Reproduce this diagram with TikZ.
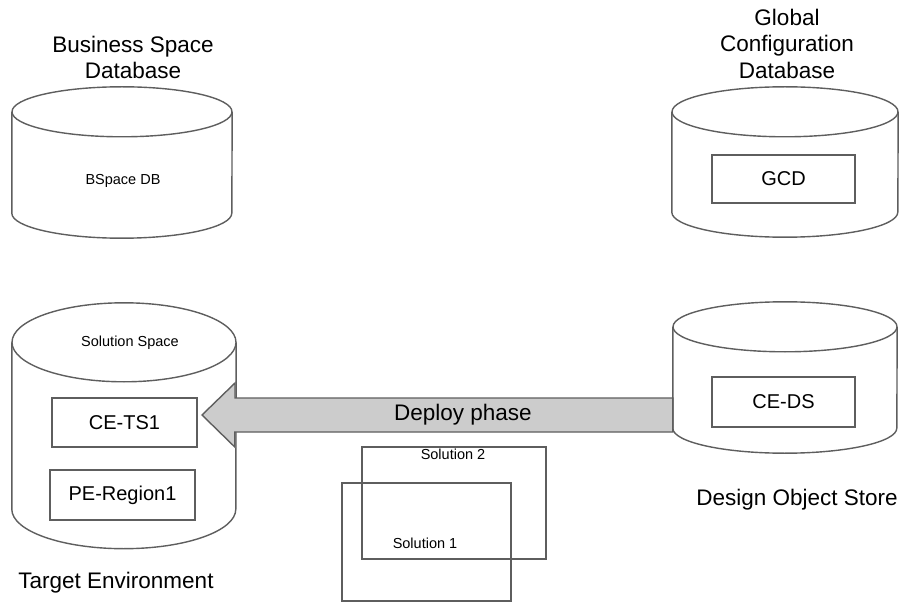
\documentclass[tikz,border=0pt]{standalone}
\usepackage{fontspec}
\setmainfont{Liberation Sans}
\usepackage{tikz}
\usetikzlibrary{positioning, calc}
\definecolor{lineg}{HTML}{5E5E5E}
\definecolor{arrowg}{HTML}{CCCCCC}
\tikzset{cylline/.style={draw=lineg, line width=1.4pt}}
\tikzset{cylbody/.style={draw=none, inner sep=0pt}}
% cylinder outline round a body node: name, x radius, y radius
\newcommand{\dbcyl}[3]{%
  \draw[cylline, fill=white] (#1.north west) -- (#1.south west)
    arc[start angle=180, end angle=360, x radius=#2, y radius=#3] -- (#1.north east);
  \draw[cylline, fill=white] (#1.north) ellipse[x radius=#2, y radius=#3];
}

\begin{document}
\begin{tikzpicture}[x=1pt, y=1pt,
    biglabel/.style={font=\fontsize{22.5}{26.5}\selectfont, inner sep=0pt, align=center},
    smalllabel/.style={font=\fontsize{14.5}{17}\selectfont, inner sep=0pt},
    innerbox/.style={draw=lineg, line width=1.4pt, minimum width=145pt, minimum height=49pt, inner sep=0pt, font=\fontsize{20}{24}\selectfont},
    solbox/.style={draw=lineg, line width=1.4pt, inner sep=0pt},
    deployarrow/.style={draw=lineg, line width=1.4pt, fill=arrowg}]
  \useasboundingbox (0,0) rectangle (904,603);

  % databases
  \node[cylbody, minimum width=220pt, minimum height=101pt] (bsdb) at (122,440.5) {};
  \dbcyl{bsdb}{110}{25}
  \node[cylbody, minimum width=226pt, minimum height=100pt] (gcdb) at (785,441) {};
  \dbcyl{gcdb}{113}{25}
  \node[cylbody, minimum width=224pt, minimum height=166.5pt] (tenv) at (124,177.25) {};
  \dbcyl{tenv}{112}{39.5}
  \node[cylbody, minimum width=224pt, minimum height=101pt] (dos) at (785,225.5) {};
  \dbcyl{dos}{112}{25}

  % titles
  \node[biglabel] (bstitle) at (133,545.5) {Business Space\\Database};
  \node[biglabel] (gctitle) at (787,559.5) {Global\\Configuration\\Database};
  \node[biglabel] (dostitle) at (797,103) {Design Object Store};
  \node[biglabel] (tetitle) at (116,20) {Target Environment};

  % contents
  \node[smalllabel] (bsname) at (123,422) {BSpace DB};
  \node[innerbox, minimum width=143pt, minimum height=48pt] (gcd) at (783.5,424) {GCD};
  \node[smalllabel] (ssname) at (130,260.5) {Solution Space};
  \node[innerbox] (cets) at (124.5,180.5) {CE-TS1};
  \node[innerbox, minimum height=50pt] (peregion) at (122.5,108) {PE-Region1};
  \node[innerbox, minimum width=143pt, minimum height=50pt] (ceds) at (783.5,201) {CE-DS};

  % deploy arrow
  \coordinate (tip) at (202,188);
  \coordinate (tail) at (dos.west |- tip);
  \draw[deployarrow] (tip) -- ++(33,32) -- ++(0,-15) -- ([yshift=17pt]tail)
    -- ([yshift=-17pt]tail) -- ++(-438,0) -- ++(0,-15) -- cycle;
  \node[biglabel] (deploy) at (463,188) {Deploy phase};

  % solutions
  \node[solbox, minimum width=184pt, minimum height=112pt] (sol2) at (454,100) {};
  \node[smalllabel] (sol2name) at (453,149) {Solution 2};
  \node[solbox, minimum width=169pt, minimum height=118pt] (sol1) at (426.5,61) {};
  \node[smalllabel] (sol1name) at (425,60) {Solution 1};
\end{tikzpicture}
\end{document}
